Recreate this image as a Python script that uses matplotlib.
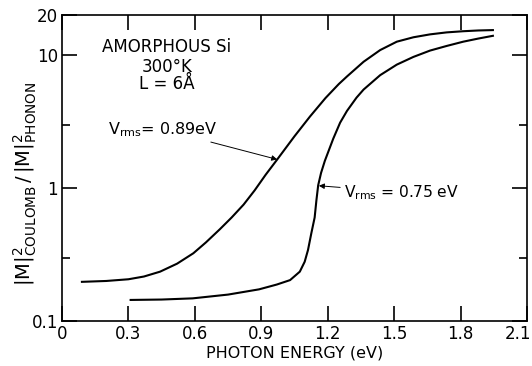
import matplotlib
matplotlib.use("Agg")
import matplotlib.pyplot as plt
import matplotlib.transforms as mtransforms
from matplotlib.ticker import FixedLocator, FixedFormatter, NullFormatter

plt.rcParams['font.family'] = ['DejaVu Sans']
plt.rcParams['mathtext.fontset'] = 'dejavusans'

# Curve V_rms = 0.89 eV
energy_089 = [0.09, 0.2, 0.3, 0.37, 0.443, 0.52, 0.593, 0.65, 0.713, 0.766, 0.82, 0.87,
              0.92, 0.972, 1.05, 1.12, 1.19, 1.25, 1.287, 1.362, 1.437, 1.512, 1.587,
              1.662, 1.737, 1.812, 1.88, 1.946]
ratio_089 = [0.197, 0.2, 0.206, 0.216, 0.235, 0.27, 0.323, 0.39, 0.49, 0.6, 0.75, 0.96,
             1.26, 1.64, 2.45, 3.45, 4.75, 6.05, 6.9, 8.9, 10.9, 12.6, 13.6,
             14.3, 14.8, 15.1, 15.3, 15.4]

# Curve V_rms = 0.75 eV
energy_075 = [0.31, 0.45, 0.59, 0.75, 0.89, 0.97, 1.03, 1.074, 1.096, 1.111, 1.126,
              1.141, 1.149, 1.157, 1.17, 1.187, 1.225, 1.256, 1.287, 1.33, 1.362,
              1.437, 1.512, 1.587, 1.662, 1.737, 1.812, 1.88, 1.946]
ratio_075 = [0.144, 0.145, 0.148, 0.158, 0.173, 0.188, 0.203, 0.235, 0.279, 0.342, 0.457,
             0.6, 0.81, 1.05, 1.3, 1.6, 2.35, 3.1, 3.8, 4.78, 5.5,
             7.06, 8.47, 9.68, 10.8, 11.7, 12.6, 13.3, 13.95]

x_ticks = [0, 0.3, 0.6, 0.9, 1.2, 1.5, 1.8, 2.1]
x_labels = ['0', '0.3', '0.6', '0.9', '1.2', '1.5', '1.8', '2.1']
y_major = [0.1, 1, 10, 20]
y_labels = ['0.1', '1', '10', '20']
y_minor = [0.3, 3]

fig = plt.figure(figsize=(5.32, 3.66), dpi=100)
ax = fig.add_axes([62/532, 1-321/366, (527-62)/532, (321-15)/366])

ax.plot(energy_089, ratio_089, color='black', lw=1.5)
ax.plot(energy_075, ratio_075, color='black', lw=1.5)

ax.set_yscale('log')
ax.set_xlim(0, 2.1)
ax.set_ylim(0.1, 20)

ax.xaxis.set_major_locator(FixedLocator(x_ticks))
ax.xaxis.set_major_formatter(FixedFormatter(x_labels))
ax.yaxis.set_major_locator(FixedLocator(y_major))
ax.yaxis.set_major_formatter(FixedFormatter(y_labels))
ax.yaxis.set_minor_locator(FixedLocator(y_minor))
ax.yaxis.set_minor_formatter(NullFormatter())

ax.tick_params(axis='both', which='major', direction='in', top=True, right=True,
               length=11, width=1.2, labelsize=12, pad=3)
ax.tick_params(axis='y', which='minor', direction='in', right=True, left=True,
               length=6, width=1.2)
for s in ax.spines.values():
    s.set_linewidth(1.2)

# keep the last x label inside the figure
fig.canvas.draw()
last = ax.get_xticklabels()[-1]
last.set_transform(last.get_transform() +
                   mtransforms.ScaledTranslation(-9/100, 0, fig.dpi_scale_trans))

ax.set_xlabel('PHOTON ENERGY (eV)', fontsize=11.5, labelpad=2)
ax.set_ylabel(r'$|\mathrm{M}|^2_{\mathrm{COULOMB}}\,/\,|\mathrm{M}|^2_{\mathrm{PHONON}}$',
              fontsize=14)
ax.yaxis.set_label_coords(-0.05, 0.45)

ax.text(0.474, 11.5, 'AMORPHOUS Si', ha='center', va='center', fontsize=12)
ax.text(0.474, 8.1, '300°K', ha='center', va='center', fontsize=12)
ax.text(0.474, 6.1, 'L = 6Å', ha='center', va='center', fontsize=12)

ax.annotate(r'V$_{\mathrm{rms}}$= 0.89eV', xy=(0.972, 1.64), xytext=(0.21, 2.75),
            fontsize=11.5, ha='left', va='center',
            arrowprops=dict(arrowstyle='-|>', color='black', lw=0.7,
                            mutation_scale=8, shrinkA=1, shrinkB=0))
ax.annotate(r'V$_{\mathrm{rms}}$ = 0.75 eV', xy=(1.16, 1.04), xytext=(1.275, 0.93),
            fontsize=11.2, ha='left', va='center',
            arrowprops=dict(arrowstyle='-|>', color='black', lw=0.7,
                            mutation_scale=8, shrinkA=1, shrinkB=0))

fig.savefig('out.png', dpi=100)
